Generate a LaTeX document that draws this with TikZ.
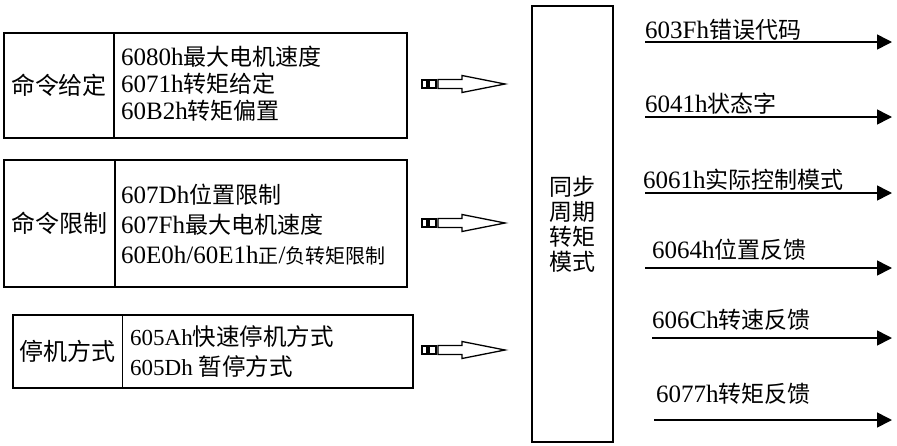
\documentclass[tikz,border=0pt]{standalone}
\usepackage{fontspec}
\setmainfont{Liberation Serif}
\newfontfamily\cjk{Noto Sans CJK SC}
\usetikzlibrary{arrows.meta}
\newcommand\zhs[2][23]{{\cjk\fontsize{#1}{#1}\selectfont #2}}
\tikzset{
  cell/.style={draw, line width=1.6pt, inner sep=0pt},
  line/.style={anchor=base west, inner sep=0pt, font=\fontsize{25}{28}\selectfont},
  sline/.style={anchor=base west, inner sep=0pt, font=\fontsize{23}{26}\selectfont},
  head/.style={inner sep=0pt, font=\cjk\fontsize{24}{24}\selectfont},
  outarrow/.style={line width=1.6pt, -{Triangle[length=15pt,width=15pt]}},
  hollowarrow/.pic={
    \draw[line width=1.8pt] (0,-4) rectangle (5,4);
    \draw[line width=1.8pt] (7,-4) rectangle (14,4);
    \draw[line width=1.3pt, line join=miter] (16,-4.5) -- (40,-4.5) -- (40,-8.5) -- (83,0) -- (40,8.5) -- (40,4.5) -- (16,4.5) -- cycle;
  }
}
\begin{document}
\begin{tikzpicture}[x=1pt,y=-1pt]
\useasboundingbox (0,0) rectangle (897,445);
% box 1
\node[cell, minimum width=110pt, minimum height=105pt] (b1l) at (59,85.5) {};
\node[cell, minimum width=293pt, minimum height=105pt] (b1r) at (260.5,85.5) {};
\node[head] (t1) at (b1l) {命令给定};
\node[line] (l11) at (121,65) {6080h\zhs{最大电机速度}};
\node[line] (l12) at (121,92) {6071h\zhs{转矩给定}};
\node[line] (l13) at (121,119) {60B2h\zhs{转矩偏置}};
% box 2
\node[cell, minimum width=111pt, minimum height=127pt] (b2l) at (59.5,223.5) {};
\node[cell, minimum width=292pt, minimum height=127pt] (b2r) at (261,223.5) {};
\node[head] (t2) at (b2l) {命令限制};
\node[line] (l21) at (121,203) {607Dh\zhs{位置限制}};
\node[line] (l22) at (121,233) {607Fh\zhs{最大电机速度}};
\node[line] (l23) at (121,263) {60E0h/60E1h\zhs[20]{正}/\zhs[20]{负转矩限制}};
% box 3
\node[cell, minimum width=109.5pt, minimum height=73pt] (b3l) at (67.75,351.5) {};
\node[cell, minimum width=290.5pt, minimum height=73pt] (b3r) at (267.75,351.5) {};
\node[head] (t3) at (b3l) {停机方式};
\node[sline] (l31) at (130,345) {605Ah\zhs[23.5]{快速停机方式}};
\node[sline] (l32) at (130,375) {605Dh \zhs[23.5]{暂停方式}};
% hollow arrows
\pic (h1) at (422,84) {hollowarrow};
\pic (h2) at (422,223) {hollowarrow};
\pic (h3) at (422,350) {hollowarrow};
% centre box
\node[cell, line width=1.4pt, minimum width=81pt, minimum height=436pt, align=center,
      font=\cjk\fontsize{23}{25}\selectfont] (mode) at (572.5,224) {同步\\周期\\转矩\\模式};
% outputs
\coordinate (s1) at (645,42);  \coordinate (e1) at (892,42);
\coordinate (s2) at (645,117); \coordinate (e2) at (892,117);
\coordinate (s3) at (645,193); \coordinate (e3) at (892,193);
\coordinate (s4) at (645,268); \coordinate (e4) at (892,268);
\coordinate (s5) at (652,338); \coordinate (e5) at (892,338);
\coordinate (s6) at (654,420); \coordinate (e6) at (892,420);
\draw[outarrow] (s1) -- (e1);
\draw[outarrow] (s2) -- (e2);
\draw[outarrow] (s3) -- (e3);
\draw[outarrow] (s4) -- (e4);
\draw[outarrow] (s5) -- (e5);
\draw[outarrow] (s6) -- (e6);
\node[line] (o1) at (645,38) {603Fh\zhs{错误代码}};
\node[line] (o2) at (645,112) {6041h\zhs{状态字}};
\node[line] (o3) at (643,188) {6061h\zhs{实际控制模式}};
\node[line] (o4) at (652,258) {6064h\zhs{位置反馈}};
\node[line] (o5) at (652,328) {606Ch\zhs{转速反馈}};
\node[line] (o6) at (656,402) {6077h\zhs{转矩反馈}};
\end{tikzpicture}
\end{document}
